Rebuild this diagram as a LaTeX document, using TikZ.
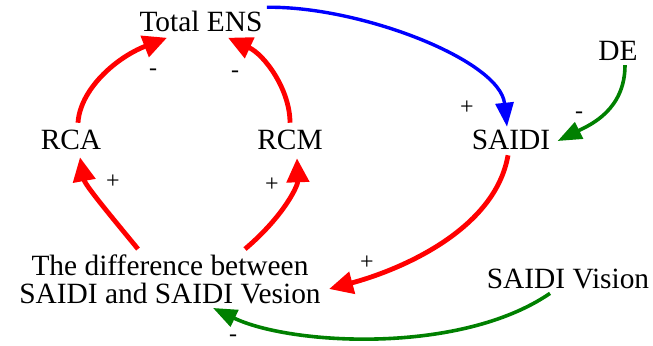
\documentclass[tikz,border=0pt]{standalone}
\usepackage{fontspec}
\setmainfont{Liberation Serif}
\usetikzlibrary{arrows.meta}
\definecolor{linkred}{RGB}{255,0,0}
\definecolor{linkblue}{RGB}{0,0,255}
\definecolor{linkgreen}{RGB}{0,128,0}
\begin{document}
\begin{tikzpicture}[x=0.5pt,y=-0.5pt,
  var/.style={inner sep=0pt,font=\fontsize{14.7}{14}\selectfont,align=center},
  sign/.style={inner sep=0pt,font=\fontsize{12}{12}\selectfont},
  redlink/.style={draw=linkred,line width=2.4pt,
    -{Triangle[length=12pt,width=11pt,fill=linkred]}},
  bluelink/.style={draw=linkblue,line width=1.7pt,
    -{Triangle[length=12pt,width=9pt,fill=linkblue]}},
  greenlink/.style={draw=linkgreen,line width=1.8pt,
    -{Triangle[length=12pt,width=9pt,fill=linkgreen]}}]
\useasboundingbox (0,0) rectangle (653,345);

% variables
\node[var] (ens)    at (201,21)  {Total ENS};
\node[var] (de)     at (618,51)  {DE};
\node[var] (saidi)  at (511,140) {SAIDI};
\node[var] (rca)    at (71,140)  {RCA};
\node[var] (rcm)    at (290,140) {RCM};
\node[var] (diff)   at (170,279) {The difference between\\SAIDI and SAIDI Vesion};
\node[var] (vision) at (568,279) {SAIDI Vision};

% causal links
\draw[bluelink] ([shift={(4,-3)}]ens.north east)
  .. controls (360,6) and (500,60) .. ([shift={(-4,-3)}]saidi.north);
\draw[greenlink] ([shift={(7,4)}]de.south)
  .. controls (625,110) and (590,125) .. ([shift={(7,1)}]saidi.east);
\draw[redlink] ([shift={(-3,5)}]saidi.south)
  .. controls (495,230) and (400,270) .. ([shift={(8,10)}]diff.east);
\draw[redlink] ([shift={(-32,-5)}]diff.north)
  .. controls (110,215) and (85,185) .. ([shift={(9,7)}]rca.south);
\draw[redlink] ([shift={(75,-5)}]diff.north)
  .. controls (285,215) and (298,185) .. ([shift={(7,8)}]rcm.south);
\draw[redlink] ([shift={(7,-7)}]rca.north)
  .. controls (80,90) and (115,58) .. ([shift={(-34,6)}]ens.south);
\draw[redlink] ([shift={(0,-7)}]rcm.north)
  .. controls (290,90) and (265,55) .. ([shift={(27,6)}]ens.south);
\draw[greenlink] ([shift={(-18,4)}]vision.south)
  .. controls (460,355) and (290,345) .. ([shift={(43,4)}]diff.south);

% link polarities
\node[sign] (s1) at (153,72)  {-};
\node[sign] (s2) at (235,74)  {-};
\node[sign] (s3) at (113,182) {+};
\node[sign] (s4) at (272,185) {+};
\node[sign] (s5) at (467,108) {+};
\node[sign] (s6) at (579,115) {-};
\node[sign] (s7) at (367,263) {+};
\node[sign] (s8) at (233,338) {-};
\end{tikzpicture}
\end{document}
